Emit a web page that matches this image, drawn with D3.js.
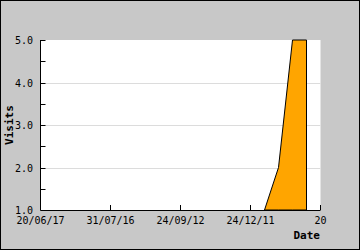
<!DOCTYPE html>
<html lang="en">
<head>
    <meta charset="UTF-8">
    <title>Visits by Date</title>
    <script src="https://d3js.org/d3.v7.min.js"></script>
    <style>
        body { margin: 0; }
        svg { display: block; }
        .tick-label { font-family: "DejaVu Sans Mono", monospace; font-size: 10px; fill: #000; }
        .axis-title { font-family: "DejaVu Sans Mono", monospace; font-size: 11px; font-weight: bold; fill: #000; }
    </style>
</head>
<body>
    <div id="chart"></div>
    <script>
        // Tick labels along the x axis (as printed on the chart)
        const xTickLabels = ["20/06/17", "31/07/16", "24/09/12", "24/12/11", "20"];
        // Position of each data point, in x tick units
        const pointX = [3.2, 3.4, 3.6, 3.8];
        // Visits for each data point
        const visits = [1, 2, 5, 5];
        // Y axis ticks
        const yMajorTicks = [1, 2, 3, 4, 5];
        const yMinorTicks = [1.5, 2.5, 3.5, 4.5];

        const W = 360, H = 250;
        const plot = {left: 40.5, right: 320.5, top: 40, bottom: 210};

        const xScale = d3.scaleLinear().domain([0, xTickLabels.length - 1]).range([plot.left, plot.right]);
        const yScale = d3.scaleLinear().domain([1, 5]).range([plot.bottom, plot.top]);

        const svg = d3.select("#chart")
            .append("svg")
            .attr("width", W)
            .attr("height", H);

        // background + border
        svg.append("rect")
            .attr("x", 0.5).attr("y", 0.5)
            .attr("width", W - 1).attr("height", H - 1)
            .attr("fill", "#c8c8c8")
            .attr("stroke", "#000");

        // plot area
        svg.append("rect")
            .attr("x", plot.left).attr("y", plot.top)
            .attr("width", plot.right - plot.left)
            .attr("height", plot.bottom - plot.top)
            .attr("fill", "#fff");

        // gridlines
        svg.append("g")
            .selectAll("line")
            .data(yMajorTicks.filter(d => d > 1 && d < 5))
            .join("line")
            .attr("x1", plot.left + 1)
            .attr("x2", plot.right)
            .attr("y1", d => Math.round(yScale(d)) + 0.5)
            .attr("y2", d => Math.round(yScale(d)) + 0.5)
            .attr("stroke", "#dcdcdc");

        // area
        const data = pointX.map((x, i) => ({x: x, y: visits[i]}));
        const area = d3.area()
            .x(d => xScale(d.x))
            .y0(yScale(1))
            .y1(d => yScale(d.y));

        svg.append("path")
            .datum(data)
            .attr("d", area)
            .attr("fill", "#ffa500")
            .attr("stroke", "#000")
            .attr("stroke-width", 1);

        // y axis line
        svg.append("line")
            .attr("x1", plot.left).attr("x2", plot.left)
            .attr("y1", plot.top).attr("y2", plot.bottom)
            .attr("stroke", "#000");

        // x axis line
        svg.append("line")
            .attr("x1", plot.left).attr("x2", plot.right)
            .attr("y1", plot.bottom + 0.5).attr("y2", plot.bottom + 0.5)
            .attr("stroke", "#000");

        // y ticks (inward)
        svg.append("g")
            .selectAll("line")
            .data(yMajorTicks.concat(yMinorTicks))
            .join("line")
            .attr("x1", plot.left)
            .attr("x2", plot.left + 5)
            .attr("y1", d => Math.round(yScale(d)) + 0.5)
            .attr("y2", d => Math.round(yScale(d)) + 0.5)
            .attr("stroke", "#000");

        svg.append("g")
            .selectAll("text")
            .data(yMajorTicks)
            .join("text")
            .attr("class", "tick-label")
            .attr("x", 33)
            .attr("y", d => yScale(d) + 4)
            .attr("text-anchor", "end")
            .text(d => d.toFixed(1));

        // x ticks (upward)
        svg.append("g")
            .selectAll("line")
            .data(d3.range(1, xTickLabels.length))
            .join("line")
            .attr("x1", d => xScale(d))
            .attr("x2", d => xScale(d))
            .attr("y1", plot.bottom)
            .attr("y2", plot.bottom - 5)
            .attr("stroke", "#000");

        svg.append("g")
            .selectAll("text")
            .data(xTickLabels)
            .join("text")
            .attr("class", "tick-label")
            .attr("x", (d, i) => xScale(i))
            .attr("y", 224)
            .attr("text-anchor", "middle")
            .text(d => d);

        // axis titles
        svg.append("text")
            .attr("class", "axis-title")
            .attr("transform", `translate(13,${(plot.top + plot.bottom) / 2}) rotate(-90)`)
            .attr("text-anchor", "middle")
            .text("Visits");

        svg.append("text")
            .attr("class", "axis-title")
            .attr("x", 320)
            .attr("y", 239)
            .attr("text-anchor", "end")
            .text("Date");
    </script>
</body>
</html>
